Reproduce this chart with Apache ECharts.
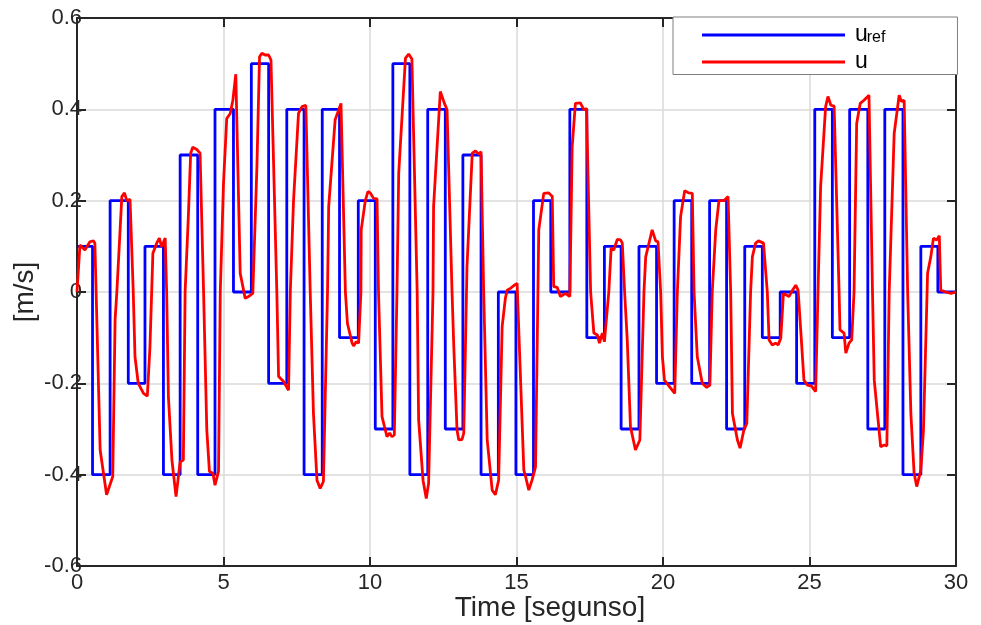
<!DOCTYPE html>
<html>
<head>
<meta charset="utf-8">
<script src="https://cdn.jsdelivr.net/npm/echarts@6/dist/echarts.min.js"></script>
<style>
  html, body { margin: 0; padding: 0; background: #fff; }
  #chart { width: 981px; height: 625px; }
</style>
</head>
<body>
<div id="chart"></div>
<script>
// Reference speed command: switch instants [s] and the level held from each instant [m/s]
const refSwitchTimes = [0, 0.53, 1.13, 1.75, 2.32, 2.95, 3.52, 4.12, 4.71, 5.34, 5.95, 6.54, 7.16, 7.75,
  8.37, 8.96, 9.60, 10.18, 10.78, 11.36, 11.97, 12.57, 13.17, 13.79, 14.38, 14.98, 15.58, 16.17,
  16.82, 17.40, 18.00, 18.57, 19.18, 19.78, 20.38, 20.98, 21.59, 22.17, 22.79, 23.39, 24.00,
  24.56, 25.18, 25.78, 26.37, 26.99, 27.57, 28.19, 28.80, 29.38, 30];
const refLevels = [0.1, -0.4, 0.2, -0.2, 0.1, -0.4, 0.3, -0.4, 0.4, 0, 0.5, -0.2, 0.4, -0.4,
  0.4, -0.1, 0.2, -0.3, 0.5, -0.4, 0.4, -0.3, 0.3, -0.4, 0, -0.4, 0.2, 0,
  0.4, -0.1, 0.1, -0.3, 0.1, -0.2, 0.2, -0.2, 0.2, -0.3, 0.1, -0.1, 0,
  -0.2, 0.4, -0.1, 0.4, -0.3, 0.4, -0.4, 0.1, 0, 0];

// Measured speed response u: [time s, speed m/s]
const uSamples = [
  [0, 0], [0.10, 0.103], [0.27, 0.092], [0.44, 0.11], [0.56, 0.112], [0.61, 0.107],
  [0.79, -0.346], [1.01, -0.444], [1.22, -0.404], [1.30, -0.061], [1.36, 0],
  [1.53, 0.209], [1.62, 0.217], [1.70, 0.2], [1.81, 0.203], [1.92, 0],
  [1.98, -0.142], [2.09, -0.2], [2.27, -0.222], [2.40, -0.228], [2.49, -0.12],
  [2.59, 0.085], [2.72, 0.107], [2.81, 0.118], [2.89, 0.099], [3.01, 0.118], [3.06, 0],
  [3.12, -0.23], [3.24, -0.368], [3.38, -0.448], [3.52, -0.372], [3.63, -0.368], [3.69, 0],
  [3.80, 0.165], [3.88, 0.304], [3.95, 0.317], [4.09, 0.312], [4.20, 0.304], [4.32, 0],
  [4.43, -0.302], [4.52, -0.393], [4.64, -0.397], [4.71, -0.423], [4.83, -0.393], [4.89, 0],
  [5.00, 0.238], [5.11, 0.38], [5.23, 0.391], [5.32, 0.42], [5.42, 0.477],
  [5.57, 0.041], [5.66, 0.012], [5.74, -0.014], [5.85, -0.01], [6.00, -0.003],
  [6.14, 0.274], [6.23, 0.515], [6.31, 0.523], [6.42, 0.519], [6.54, 0.519], [6.62, 0.508], [6.82, 0],
  [6.88, -0.185], [7.05, -0.196], [7.22, -0.215], [7.28, 0],
  [7.39, 0.2], [7.56, 0.391], [7.68, 0.406], [7.81, 0.409], [7.96, 0],
  [8.07, -0.266], [8.19, -0.412], [8.30, -0.43], [8.41, -0.415], [8.55, 0],
  [8.59, 0.187], [8.81, 0.377], [9.01, 0.413], [9.16, 0],
  [9.23, -0.069], [9.39, -0.112], [9.44, -0.118], [9.53, -0.109], [9.61, -0.112], [9.69, 0],
  [9.70, 0.136], [9.84, 0.2], [9.93, 0.22], [10.01, 0.217], [10.12, 0.205], [10.24, 0.204], [10.29, 0],
  [10.41, -0.273], [10.58, -0.317], [10.67, -0.309], [10.75, -0.317], [10.83, -0.313], [10.92, 0],
  [10.98, 0.26], [11.21, 0.512], [11.32, 0.521], [11.43, 0.51], [11.61, 0],
  [11.66, -0.28], [11.81, -0.412], [11.92, -0.452], [12.00, -0.419], [12.15, 0],
  [12.17, 0.187], [12.40, 0.439], [12.54, 0.413], [12.63, 0.399], [12.80, 0],
  [12.86, -0.12], [12.97, -0.302], [13.03, -0.324], [13.14, -0.323], [13.20, -0.309],
  [13.31, 0.055], [13.49, 0.304], [13.60, 0.309], [13.71, 0.302], [13.79, 0.307], [13.88, 0],
  [14.00, -0.324], [14.17, -0.434], [14.28, -0.444], [14.39, -0.412], [14.51, -0.076],
  [14.62, -0.014], [14.68, 0.004], [14.79, 0.008], [14.93, 0.015], [15.02, 0.019], [15.08, 0.02],
  [15.25, -0.39], [15.31, -0.404], [15.42, -0.434], [15.53, -0.412], [15.65, -0.383],
  [15.76, 0.136], [15.93, 0.216], [16.10, 0.217], [16.22, 0.209],
  [16.27, 0.012], [16.39, 0.01], [16.50, -0.01], [16.67, -0.003], [16.82, -0.01],
  [16.90, 0.318], [17.01, 0.413], [17.18, 0.414], [17.30, 0.399], [17.39, 0.402], [17.53, 0],
  [17.64, -0.09], [17.76, -0.094], [17.83, -0.112], [17.93, -0.09], [18.00, -0.109], [18.15, 0],
  [18.23, 0.096], [18.32, 0.092], [18.44, 0.115], [18.55, 0.114], [18.61, 0.107], [18.69, 0],
  [18.78, -0.105], [18.89, -0.295], [19.06, -0.346], [19.21, -0.324], [19.35, 0],
  [19.41, 0.077], [19.63, 0.136], [19.75, 0.112], [19.83, 0.11], [19.92, 0],
  [19.98, -0.142], [20.05, -0.193], [20.24, -0.209], [20.40, -0.222], [20.49, 0],
  [20.60, 0.165], [20.74, 0.222], [20.88, 0.217], [21.00, 0.216], [21.06, 0],
  [21.17, -0.142], [21.34, -0.2], [21.49, -0.209], [21.60, -0.204], [21.68, 0],
  [21.80, 0.136], [21.91, 0.2], [22.08, 0.2], [22.22, 0.209], [22.31, 0],
  [22.37, -0.266], [22.54, -0.324], [22.63, -0.342], [22.76, -0.302], [22.86, -0.288], [22.99, 0],
  [23.05, 0.077], [23.16, 0.107], [23.26, 0.112], [23.43, 0.107], [23.56, 0],
  [23.62, -0.105], [23.73, -0.116], [23.84, -0.112], [23.93, -0.116], [24.02, -0.101],
  [24.11, -0.003], [24.30, -0.01], [24.42, 0.004], [24.53, 0.015], [24.61, 0.004],
  [24.70, -0.083], [24.81, -0.193], [24.93, -0.204], [25.07, -0.206], [25.21, -0.218], [25.29, 0],
  [25.38, 0.231], [25.55, 0.406], [25.63, 0.428], [25.73, 0.409], [25.84, 0.407], [26.01, 0],
  [26.04, -0.083], [26.18, -0.09], [26.24, -0.134], [26.35, -0.112], [26.44, -0.105], [26.52, 0],
  [26.61, 0.369], [26.73, 0.413], [26.86, 0.42], [27.03, 0.431], [27.15, 0],
  [27.21, -0.193], [27.34, -0.28], [27.43, -0.339], [27.55, -0.335], [27.64, -0.337], [27.72, 0],
  [27.89, 0.347], [28.06, 0.431], [28.14, 0.417], [28.23, 0.42], [28.35, 0],
  [28.46, -0.266], [28.57, -0.397], [28.66, -0.426], [28.80, -0.39], [28.89, -0.302],
  [29.03, 0.041], [29.14, 0.077], [29.23, 0.118], [29.34, 0.114], [29.43, 0.123],
  [29.48, 0.004], [29.65, 0], [29.83, -0.003], [30.00, 0]
];

const xTicks = { min: 0, max: 30, step: 5 };
const yTicks = { min: -0.6, max: 0.6, step: 0.2 };

const FONT = "'Liberation Sans', Arial, Helvetica, sans-serif";
const INK = '#262626';

const refData = refSwitchTimes.map((t, i) => [t, refLevels[i]]);

const fmtY = v => {
  const r = Math.round(v * 10) / 10;
  return r === 0 ? '0' : String(r);
};

const chart = echarts.init(document.getElementById('chart'), null, { renderer: 'canvas' });

const frameAxis = {
  axisLine: { show: true, onZero: false, lineStyle: { color: INK, width: 2 } },
  axisTick: { show: true, inside: true, length: 9, lineStyle: { color: INK, width: 2 } }
};

chart.setOption({
  animation: false,
  backgroundColor: '#ffffff',
  textStyle: { fontFamily: FONT },
  grid: { left: 77, right: 25, top: 18, bottom: 59, containLabel: false, outerBoundsMode: 'none' },
  legend: {
    data: ['u_ref', 'u'],
    orient: 'vertical',
    left: 673,
    top: 17,
    icon: 'rect',
    itemWidth: 143,
    itemHeight: 3,
    itemGap: 4,
    padding: [4, 72, 1, 29],
    backgroundColor: '#ffffff',
    borderColor: '#7f7f7f',
    borderWidth: 1,
    borderRadius: 0,
    selectedMode: false,
    formatter: name => name === 'u_ref' ? '{m|u}{s|ref}' : '{m|u}',
    textStyle: {
      color: '#000',
      fontFamily: FONT,
      fontSize: 22,
      lineHeight: 22,
      padding: [0, 0, 0, 5],
      rich: {
        m: { fontSize: 23, fontFamily: FONT, color: '#000', lineHeight: 22 },
        s: { fontSize: 16, fontFamily: FONT, color: '#000', verticalAlign: 'bottom', padding: [9, 0, 0, -1], lineHeight: 22 }
      }
    }
  },
  xAxis: [
    Object.assign({
      type: 'value', position: 'bottom',
      min: xTicks.min, max: xTicks.max, interval: xTicks.step,
      axisLabel: { color: INK, fontSize: 22, fontFamily: FONT, margin: 6 },
      splitLine: { show: true, lineStyle: { color: '#dadada', width: 1.5 } },
      name: 'Time [segunso]',
      nameLocation: 'middle',
      nameGap: 28,
      nameMoveOverlap: false,
      nameTextStyle: { color: INK, fontSize: 28, fontFamily: FONT, padding: [0, 0, 0, 67] }
    }, frameAxis),
    Object.assign({
      type: 'value', position: 'top',
      min: xTicks.min, max: xTicks.max, interval: xTicks.step,
      axisLabel: { show: false },
      splitLine: { show: false }
    }, frameAxis)
  ],
  yAxis: [
    Object.assign({
      type: 'value', position: 'left',
      min: yTicks.min, max: yTicks.max, interval: yTicks.step,
      axisLabel: { color: INK, fontSize: 22, fontFamily: FONT, margin: -5, formatter: fmtY },
      splitLine: { show: true, lineStyle: { color: '#dadada', width: 1.5 } },
      name: '[m/s]',
      nameLocation: 'middle',
      nameGap: 38,
      nameMoveOverlap: false,
      nameTextStyle: { color: INK, fontSize: 28, fontFamily: FONT }
    }, frameAxis),
    Object.assign({
      type: 'value', position: 'right',
      min: yTicks.min, max: yTicks.max, interval: yTicks.step,
      axisLabel: { show: false },
      splitLine: { show: false }
    }, frameAxis)
  ],
  series: [
    {
      name: 'u_ref',
      type: 'line',
      step: 'end',
      data: refData,
      showSymbol: false,
      color: '#0000ff',
      lineStyle: { color: '#0000ff', width: 2.8 },
      z: 2
    },
    {
      name: 'u',
      type: 'line',
      data: uSamples,
      showSymbol: false,
      color: '#ff0000',
      lineStyle: { color: '#ff0000', width: 2.8 },
      z: 3
    }
  ]
});
</script>
</body>
</html>
